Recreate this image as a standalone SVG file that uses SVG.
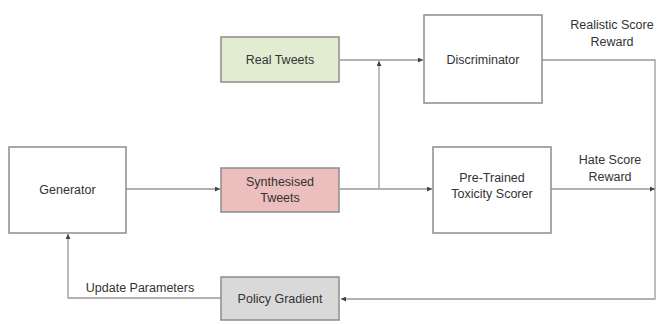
<svg xmlns="http://www.w3.org/2000/svg" width="660" height="324" viewBox="0 0 660 324">
<style>
.box{stroke:#8c8c8c;stroke-width:1.5}
.t{font-family:"Liberation Sans",Arial,sans-serif;font-size:12.5px;fill:#333;text-anchor:middle}
.c{fill:none;stroke:#999;stroke-width:1.3}
</style>
<defs>
<marker id="a" viewBox="0 0 8 8" refX="8" refY="4" markerWidth="5" markerHeight="5" orient="auto" markerUnits="userSpaceOnUse">
<path d="M0,0 L8,4 L0,8 z" fill="#444"/>
</marker>
</defs>
<rect width="660" height="324" fill="#fff"/>
<g id="connectors">
<path class="c" d="M126,189 H220" marker-end="url(#a)"/>
<path class="c" d="M340,60 H423" marker-end="url(#a)"/>
<path class="c" d="M379,189 V61" marker-end="url(#a)"/>
<path class="c" d="M340,189 H432" marker-end="url(#a)"/>
<path class="c" d="M542,60 H655 V299 H341" marker-end="url(#a)"/>
<path class="c" d="M551,189 H655" marker-end="url(#a)"/>
<path class="c" d="M221,298 H68 V234" marker-end="url(#a)"/>
</g>
<g id="generator">
<rect class="box" x="9" y="147" width="117" height="86" fill="#fff"/>
<text class="t" x="67.5" y="194">Generator</text>
</g>
<g id="real-tweets">
<rect class="box" x="221" y="37" width="118" height="45" fill="#e2ecd0"/>
<text class="t" x="280" y="64">Real Tweets</text>
</g>
<g id="synthesised-tweets">
<rect class="box" x="221" y="168" width="118" height="44" fill="#ecbfbe"/>
<text class="t" x="280" y="186">Synthesised</text>
<text class="t" x="280" y="202">Tweets</text>
</g>
<g id="discriminator">
<rect class="box" x="424" y="15" width="118" height="88" fill="#fff"/>
<text class="t" x="483" y="64">Discriminator</text>
</g>
<g id="toxicity-scorer">
<rect class="box" x="433" y="147" width="118" height="86" fill="#fff"/>
<text class="t" x="492" y="182">Pre-Trained</text>
<text class="t" x="492" y="198">Toxicity Scorer</text>
</g>
<g id="policy-gradient">
<rect class="box" x="221" y="277" width="118" height="43" fill="#d9d9d9"/>
<text class="t" x="280" y="303">Policy Gradient</text>
</g>
<g id="labels">
<text class="t" x="612" y="29">Realistic Score</text>
<text class="t" x="612" y="46">Reward</text>
<text class="t" x="610" y="164">Hate Score</text>
<text class="t" x="610" y="181">Reward</text>
<text class="t" x="140" y="292">Update Parameters</text>
</g>
</svg>
